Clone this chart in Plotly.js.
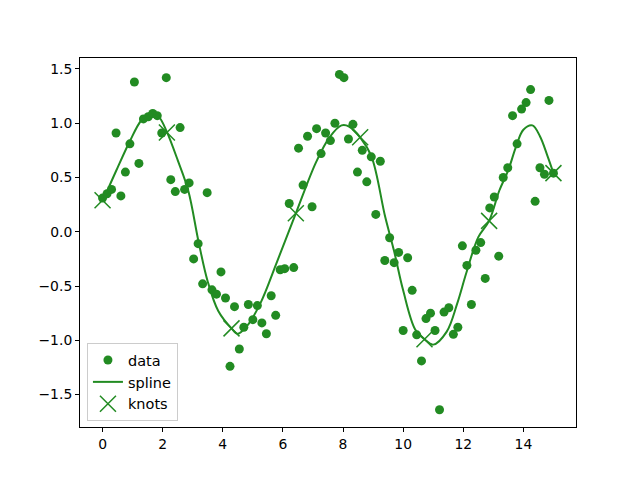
<!DOCTYPE html>
<html>
<head>
<meta charset="utf-8">
<script src="https://cdn.plot.ly/plotly-3.0.1.min.js"></script>
<style>html,body{margin:0;padding:0;background:#fff;}#chart{width:640px;height:480px;}</style>
</head>
<body>
<div id="chart"></div>
<script>
// Noisy sample points
const dataX = [0, 0.15, 0.30, 0.45, 0.61, 0.76, 0.91, 1.06, 1.21, 1.36,
  1.52, 1.67, 1.82, 1.97, 2.12, 2.27, 2.42, 2.58, 2.73, 2.88,
  3.03, 3.18, 3.33, 3.48, 3.64, 3.79, 3.94, 4.09, 4.24, 4.39,
  4.55, 4.70, 4.85, 5.00, 5.15, 5.30, 5.45, 5.61, 5.76, 5.91,
  6.06, 6.21, 6.36, 6.52, 6.67, 6.82, 6.97, 7.12, 7.27, 7.42,
  7.58, 7.73, 7.88, 8.03, 8.18, 8.33, 8.48, 8.64, 8.79, 8.94,
  9.09, 9.24, 9.39, 9.55, 9.70, 9.85, 10.00, 10.15, 10.30, 10.45,
  10.61, 10.76, 10.91, 11.06, 11.21, 11.36, 11.52, 11.67, 11.82, 11.97,
  12.12, 12.27, 12.42, 12.58, 12.73, 12.88, 13.03, 13.18, 13.33, 13.48,
  13.64, 13.79, 13.94, 14.09, 14.24, 14.39, 14.55, 14.70, 14.85, 15.00];
const dataY = [0.31, 0.35, 0.39, 0.91, 0.33, 0.55, 0.81, 1.38, 0.63, 1.04,
  1.06, 1.09, 1.07, 0.91, 1.42, 0.48, 0.37, 0.96, 0.39, 0.45,
  -0.25, -0.11, -0.48, 0.36, -0.535, -0.575, -0.37, -0.61, -1.24, -0.69,
  -1.08, -0.88, -0.67, -0.81, -0.68, -0.84, -0.94, -0.59, -0.77, -0.35,
  -0.34, 0.26, -0.33, 0.77, 0.43, 0.88, 0.23, 0.95, 0.72, 0.91,
  0.84, 1.00, 1.45, 1.42, 0.855, 0.99, 0.55, 0.75, 0.46, 0.69,
  0.16, 0.65, -0.265, -0.055, -0.285, -0.19, -0.91, -0.24, -0.54, -0.95,
  -1.19, -0.80, -0.75, -0.91, -1.64, -0.74, -0.70, -0.945, -0.88, -0.13,
  -0.31, -0.67, -0.17, -0.10, -0.43, 0.22, 0.32, -0.225, 0.50, 0.59,
  1.07, 0.81, 1.13, 1.19, 1.31, 0.28, 0.59, 0.53, 1.21, 0.54];

// Fitted spline
const splineX = [0, 0.45, 0.9, 1.3, 1.65, 1.9, 2.14, 2.5, 2.85, 3.2, 3.5, 3.85, 4.29, 4.5, 4.8,
  5.25, 5.8, 6.43, 7.1, 7.55, 7.95, 8.2, 8.57, 8.95, 9.4, 9.7, 10.0, 10.4, 10.71, 11.0,
  11.45, 11.8, 12.1, 12.5, 12.86, 13.2, 13.5, 13.75, 14.0, 14.3, 14.55, 14.8, 15];
const splineY = [0.28, 0.56, 0.83, 1.03, 1.10, 1.05, 0.92, 0.66, 0.38, -0.10, -0.46, -0.73, -0.89, -0.94, -0.87,
  -0.66, -0.28, 0.17, 0.64, 0.87, 0.98, 0.97, 0.87, 0.69, 0.14, -0.18, -0.54, -0.90, -0.99, -1.04,
  -0.92, -0.66, -0.38, -0.05, 0.10, 0.38, 0.57, 0.78, 0.94, 0.98, 0.88, 0.70, 0.54];

// Knots
const knotX = [0, 2.14, 4.29, 6.43, 8.57, 10.71, 12.86, 15];
const knotY = [0.29, 0.915, -0.89, 0.17, 0.87, -0.99, 0.10, 0.54];

const green = '#228B22';
const traces = [
  {x: dataX, y: dataY, type: 'scatter', mode: 'markers', name: 'data',
   marker: {color: green, size: 9, line: {width: 0}}},
  {x: splineX, y: splineY, type: 'scatter', mode: 'lines', name: 'spline',
   line: {color: green, width: 2, shape: 'spline', smoothing: 1}},
  {x: knotX, y: knotY, type: 'scatter', mode: 'markers', name: 'knots',
   marker: {color: green, symbol: 'x-thin-open', size: 16, line: {color: green, width: 1.5}}}
];

const axisCommon = {
  showgrid: false, zeroline: false, showline: true, mirror: true,
  linecolor: '#000', linewidth: 1, ticks: 'outside', ticklen: 4,
  tickwidth: 1, tickcolor: '#000', tickfont: {family: 'DejaVu Sans', size: 13.9, color: '#000'}
};

const layout = {
  width: 640, height: 480,
  margin: {l: 80, r: 64, t: 58, b: 53},
  paper_bgcolor: '#fff', plot_bgcolor: '#fff',
  font: {family: 'DejaVu Sans', size: 13.9, color: '#000'},
  xaxis: Object.assign({}, axisCommon, {range: [-0.75, 15.75], tickmode: 'linear', tick0: 0, dtick: 2}),
  yaxis: Object.assign({}, axisCommon, {range: [-1.799, 1.601], tickmode: 'linear', tick0: 0, dtick: 0.5, tickformat: '.1f'}),
  showlegend: true,
  legend: {x: 0.014, y: 0.016, xanchor: 'left', yanchor: 'bottom',
    bgcolor: 'rgba(255,255,255,0.8)', bordercolor: '#cccccc', borderwidth: 1,
    font: {family: 'DejaVu Sans', size: 14.5, color: '#000'}, itemwidth: 30, tracegroupgap: 0}
};

Plotly.newPlot('chart', traces, layout, {displayModeBar: false, staticPlot: true});
</script>
</body>
</html>
